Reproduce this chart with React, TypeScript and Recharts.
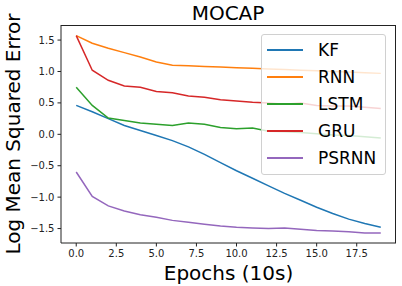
import { LineChart, Line, XAxis, YAxis, Legend, Label } from "recharts";

const epochs = [0, 1, 2, 3, 4, 5, 6, 7, 8, 9, 10, 11, 12, 13, 14, 15, 16, 17, 18, 19];
const kf = [0.46, 0.36, 0.25, 0.14, 0.06, -0.02, -0.1, -0.2, -0.32, -0.45, -0.58, -0.7, -0.82, -0.94, -1.05, -1.16, -1.26, -1.35, -1.42, -1.48];
const rnn = [1.57, 1.45, 1.37, 1.3, 1.23, 1.15, 1.1, 1.09, 1.08, 1.07, 1.06, 1.05, 1.04, 1.03, 1.02, 1.01, 1.0, 0.99, 0.98, 0.97];
const lstm = [0.75, 0.46, 0.26, 0.22, 0.18, 0.16, 0.14, 0.18, 0.16, 0.11, 0.09, 0.1, 0.05, 0.04, 0.03, 0.01, -0.01, -0.02, -0.04, -0.06];
const gru = [1.57, 1.02, 0.86, 0.77, 0.75, 0.68, 0.66, 0.61, 0.59, 0.55, 0.53, 0.51, 0.5, 0.48, 0.5, 0.46, 0.45, 0.45, 0.43, 0.41];
const psrnn = [-0.6, -0.99, -1.14, -1.22, -1.28, -1.32, -1.37, -1.4, -1.43, -1.46, -1.48, -1.49, -1.5, -1.49, -1.51, -1.53, -1.54, -1.55, -1.57, -1.57];

const xTicks = [0, 2.5, 5, 7.5, 10, 12.5, 15, 17.5];
const yTicks = [-1.5, -1, -0.5, 0, 0.5, 1, 1.5];
const X_DOMAIN: [number, number] = [-0.95, 19.95];
const Y_DOMAIN: [number, number] = [-1.73, 1.74];

const series = [
    { key: "KF", values: kf, color: "#1f77b4" },
    { key: "RNN", values: rnn, color: "#ff7f0e" },
    { key: "LSTM", values: lstm, color: "#2ca02c" },
    { key: "GRU", values: gru, color: "#d62728" },
    { key: "PSRNN", values: psrnn, color: "#9467bd" },
];

const data = epochs.map((e, i) => {
    const row: Record<string, number> = { epoch: e };
    series.forEach((s) => (row[s.key] = s.values[i]));
    return row;
});

const W = 402;
const H = 286;
const MARGIN = { top: 25, right: 6, left: 0, bottom: 0 };
const Y_AXIS_W = 61;
const X_AXIS_H = 43;
const PLOT_L = MARGIN.left + Y_AXIS_W;
const PLOT_T = MARGIN.top;
const PLOT_R = W - MARGIN.right;
const PLOT_B = H - MARGIN.bottom - X_AXIS_H;

const FONT = "DejaVu Sans";
const fmt = (v: number) => (v < 0 ? "\u2212" + Math.abs(v).toFixed(1) : v.toFixed(1));
const tickStyle = { fontSize: 10, fill: "#222", fontFamily: FONT };

const LegendBox = () => (
    <div
        style={{
            width: 125,
            height: 141,
            boxSizing: "border-box",
            background: "rgba(255,255,255,0.8)",
            border: "1px solid #d0d0d0",
            borderRadius: 3,
            fontFamily: FONT,
            fontSize: 17,
            color: "#000",
            paddingTop: 2,
        }}
    >
        {series.map((s) => (
            <div key={s.key} style={{ display: "flex", alignItems: "center", height: 26.8 }}>
                <div style={{ width: 36, height: 2, background: s.color, marginLeft: 5, marginRight: 15 }} />
                <span>{s.key}</span>
            </div>
        ))}
    </div>
);

export default function App() {
    return (
        <div style={{ position: "absolute", left: 0, top: 0, width: W, height: H }}>
            <LineChart width={W} height={H} data={data} margin={MARGIN}>
                <text x={228} y={20} textAnchor="middle" fontSize={20} fontFamily={FONT} fill="#000">
                    MOCAP
                </text>
                <text
                    x={20}
                    y={134}
                    transform="rotate(-90, 20, 134)"
                    textAnchor="middle"
                    fontSize={20}
                    fontFamily={FONT}
                    fill="#000"
                >
                    Log Mean Squared Error
                </text>
                <XAxis
                    dataKey="epoch"
                    type="number"
                    domain={X_DOMAIN}
                    ticks={xTicks}
                    tickFormatter={fmt}
                    height={X_AXIS_H}
                    tickSize={3.5}
                    tickMargin={3}
                    tick={tickStyle}
                    stroke="#222"
                    allowDataOverflow
                >
                    <Label value="Epochs (10s)" position="insideBottom" offset={6} fontSize={20} fontFamily={FONT} fill="#000" />
                </XAxis>
                <YAxis
                    type="number"
                    domain={Y_DOMAIN}
                    ticks={yTicks}
                    tickFormatter={fmt}
                    width={Y_AXIS_W}
                    tickSize={3.5}
                    tickMargin={3}
                    tick={tickStyle}
                    stroke="#222"
                    allowDataOverflow
                />
                {series.map((s) => (
                    <Line
                        key={s.key}
                        type="linear"
                        dataKey={s.key}
                        stroke={s.color}
                        strokeWidth={1.5}
                        dot={false}
                        isAnimationActive={false}
                    />
                ))}
                <Legend
                    layout="vertical"
                    align="center"
                    verticalAlign="middle"
                    content={() => <LegendBox />}
                    wrapperStyle={{ position: "absolute", left: 261, top: 34, width: 125, height: 141 }}
                />
            </LineChart>
            {/* top and right spines of the plot frame */}
            <div
                style={{
                    position: "absolute",
                    left: PLOT_L,
                    top: PLOT_T,
                    width: PLOT_R - PLOT_L,
                    height: PLOT_B - PLOT_T,
                    boxSizing: "border-box",
                    borderTop: "1px solid #222",
                    borderRight: "1px solid #222",
                    pointerEvents: "none",
                    zIndex: 5,
                }}
            />
        </div>
    );
}
